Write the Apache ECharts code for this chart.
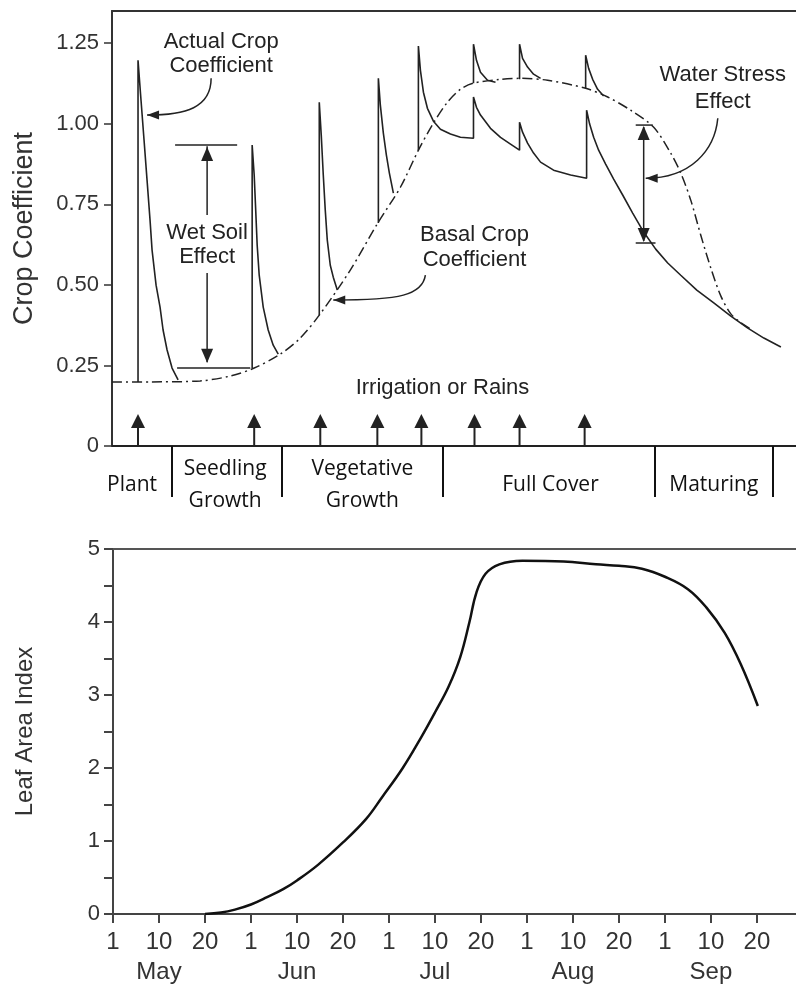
<!DOCTYPE html>
<html><head><meta charset="utf-8">
<script src="https://cdn.jsdelivr.net/npm/echarts@6.0.0/dist/echarts.min.js"></script>
<style>html,body{margin:0;padding:0;background:#fff}#c{width:796px;height:984px}</style>
</head><body><div id="c"></div>
<script>
// x units: 10-day periods counted from 1 May (1 May = 0, 10 May = 1, 20 May = 2, 1 Jun = 3 ...)
const dekadTicks = [0,1,2,3,4,5,6,7,8,9,10,11,12,13,14];
const dekadLabels = ['1','10','20','1','10','20','1','10','20','1','10','20','1','10','20'];
const monthNames = ['May','Jun','Jul','Aug','Sep'];
const cropTicks = [0, 0.25, 0.5, 0.75, 1.0, 1.25];
const stageNames = ['Plant','Seedling\nGrowth','Vegetative\nGrowth','Full Cover','Maturing'];
const stageCenters = [0.435, 2.457, 5.435, 9.52, 13.065];
const stageBounds = [1.304, 3.696, 7.174, 11.783, 14.348];
const irrigationDates = [0.565, 3.087, 4.522, 5.761, 6.717, 7.87, 8.848, 10.261];

const basalKc = [[0,0.199],[0.826,0.199],[1.913,0.202],[2.565,0.217],[3.087,0.242],[3.652,0.285],[4.087,0.335],[4.5,0.406],[5.174,0.546],[5.783,0.695],[6.261,0.803],[6.652,0.918],[6.978,1.002],[7.283,1.067],[7.565,1.107],[7.848,1.126],[8.435,1.138],[8.87,1.141],[9.457,1.135],[10.283,1.110],[10.761,1.083],[11.261,1.042],[11.761,0.989],[12.13,0.909],[12.348,0.847],[12.565,0.763],[12.783,0.654],[12.999,0.553],[13.217,0.466],[13.435,0.41],[13.652,0.383],[13.87,0.363]];

const actualKcSegments = [
  [[0.565,0.199],[0.565,1.197],[0.630,1.073],[0.696,0.949],[0.761,0.825],[0.826,0.701],[0.870,0.608],[0.957,0.499],[1.043,0.431],[1.109,0.360],[1.196,0.298],[1.304,0.242],[1.435,0.205]],
  [[3.043,0.242],[3.043,0.934],[3.087,0.841],[3.120,0.732],[3.152,0.623],[3.196,0.530],[3.283,0.431],[3.391,0.360],[3.500,0.313],[3.609,0.285]],
  [[4.500,0.406],[4.500,1.067],[4.543,0.965],[4.587,0.841],[4.630,0.732],[4.674,0.639],[4.739,0.561],[4.804,0.524],[4.891,0.484]],
  [[5.783,0.692],[5.783,1.141],[5.826,1.058],[5.891,0.971],[5.957,0.903],[6.022,0.847],[6.109,0.785]],
  [[6.652,0.918],[6.652,1.241],[6.696,1.166],[6.761,1.098],[6.848,1.048],[6.978,1.008],[7.130,0.983],[7.348,0.968],[7.565,0.958],[7.848,0.955],[7.848,1.083],[7.913,1.051],[8.000,1.027],[8.217,0.986],[8.435,0.958],[8.652,0.937],[8.848,0.918],[8.848,1.005],[8.913,0.974],[9.022,0.940],[9.152,0.909],[9.304,0.881],[9.587,0.856],[9.957,0.841],[10.304,0.831],[10.304,1.042],[10.370,0.999],[10.457,0.958],[10.565,0.918],[10.717,0.875],[10.891,0.828],[11.087,0.779],[11.304,0.723],[11.543,0.664],[11.804,0.611],[12.065,0.568],[12.348,0.530],[12.696,0.484],[13.065,0.444],[13.435,0.403],[13.804,0.366],[14.152,0.335],[14.522,0.307]]
];

const wetSurfaceSpikes = [
  [[7.848,1.126],[7.848,1.247],[7.913,1.197],[8.0,1.160],[8.152,1.135],[8.326,1.129]],
  [[8.848,1.138],[8.848,1.247],[8.913,1.203],[9.022,1.176],[9.152,1.154],[9.304,1.141]],
  [[10.283,1.110],[10.283,1.213],[10.348,1.172],[10.435,1.138],[10.543,1.107],[10.674,1.086]]
];

const leafAreaIndex = [[2.0,0],[2.35,0.02],[2.65,0.06],[3.0,0.13],[3.35,0.23],[3.7,0.34],[4.0,0.46],[4.45,0.67],[5.0,0.98],[5.5,1.3],[5.85,1.6],[6.3,2.0],[6.7,2.42],[7.0,2.76],[7.3,3.12],[7.55,3.52],[7.75,4.0],[7.9,4.4],[8.1,4.66],[8.4,4.79],[8.9,4.84],[9.8,4.83],[10.5,4.79],[11.0,4.77],[11.5,4.73],[12.0,4.62],[12.5,4.45],[12.9,4.2],[13.3,3.85],[13.65,3.42],[14.02,2.85]];

const INK = '#222';
const FONT = 'Liberation Sans, Arial, Helvetica, sans-serif';
const XMAX = 14.85;

function nearestIndex(arr, v) {
  let best = 0;
  arr.forEach((a, i) => { if (Math.abs(a - v) < Math.abs(arr[best] - v)) best = i; });
  return best;
}

function renderAnnotations(params, api) {
  const P = (x, y) => api.coord([x, y]);
  const ch = [];
  const line = (a, b, w) => ({type:'line', shape:{x1:a[0],y1:a[1],x2:b[0],y2:b[1]}, style:{stroke:INK, lineWidth:w||1.5}});
  const bez = (a, b, c, d) => ({type:'bezierCurve', shape:{x1:a[0],y1:a[1],cpx1:b[0],cpy1:b[1],cpx2:c[0],cpy2:c[1],x2:d[0],y2:d[1]}, style:{stroke:INK, fill:null, lineWidth:1.5}});
  const head = (tip, from, len, hw) => {
    len = len || 13; hw = hw || 5.5;
    const dx = tip[0]-from[0], dy = tip[1]-from[1], d = Math.hypot(dx, dy) || 1;
    const ux = dx/d, uy = dy/d, bx = tip[0]-ux*len, by = tip[1]-uy*len;
    return {type:'polygon', shape:{points:[[tip[0],tip[1]],[bx-uy*hw,by+ux*hw],[bx+uy*hw,by-ux*hw]]}, style:{fill:INK}};
  };
  const text = (s, at, lh) => ({type:'text', x:at[0], y:at[1], style:{text:s, fill:INK, fontFamily:FONT, fontSize:22, align:'center', verticalAlign:'middle', lineHeight:lh||25}});

  // Actual crop coefficient label + curved arrow
  ch.push(text('Actual Crop\nCoefficient', P(2.37, 1.216), 24));
  {
    const p0 = P(2.152,1.141), p1 = P(2.152,1.05), p2 = P(1.60,1.027), p3 = P(0.761,1.027);
    ch.push(bez(p0,p1,p2,p3)); ch.push(head(p3, p2, 12, 4.5));
  }
  // Wet soil effect bracket
  ch.push(line(P(1.37,0.934), P(2.717,0.934)));
  ch.push(line(P(2.065,0.717), P(2.065,0.93)));
  ch.push(head(P(2.065,0.928), P(2.065,0.717), 14, 6));
  ch.push(text('Wet Soil\nEffect', P(2.065, 0.623), 24));
  ch.push(line(P(2.065,0.537), P(2.065,0.26)));
  ch.push(head(P(2.065,0.258), P(2.065,0.537), 14, 6));
  ch.push(line(P(1.413,0.242), P(3.0,0.242)));
  // Basal crop coefficient label + curved arrow
  ch.push(text('Basal Crop\nCoefficient', P(7.87, 0.616), 25));
  {
    const p0 = P(6.804,0.530), p1 = P(6.739,0.468), p2 = P(6.261,0.453), p3 = P(4.804,0.453);
    ch.push(bez(p0,p1,p2,p3)); ch.push(head(p3, p2, 12, 4.5));
  }
  // Water stress effect label + curved arrow + bracket
  ch.push(text('Water Stress\nEffect', P(13.26, 1.109), 27));
  {
    const p0 = P(13.152,1.017), p1 = P(13.087,0.918), p2 = P(12.565,0.831), p3 = P(11.587,0.831);
    ch.push(bez(p0,p1,p2,p3)); ch.push(head(p3, p2, 12, 4.5));
  }
  ch.push(line(P(11.37,0.996), P(11.74,0.996)));
  ch.push(line(P(11.37,0.63), P(11.80,0.63)));
  ch.push(line(P(11.543,0.99), P(11.543,0.636)));
  ch.push(head(P(11.543,0.993), P(11.543,0.63), 14, 6));
  ch.push(head(P(11.543,0.633), P(11.543,0.996), 14, 6));
  // Irrigation label
  ch.push(text('Irrigation or Rains', P(7.174, 0.18)));
  return {type:'group', children:ch};
}

function renderIrrigation(params, api) {
  const b = api.coord([api.value(0), 0]);
  return {type:'group', children:[
    {type:'line', shape:{x1:b[0], y1:b[1], x2:b[0], y2:b[1]-19}, style:{stroke:INK, lineWidth:2}},
    {type:'polygon', shape:{points:[[b[0], b[1]-32],[b[0]-7, b[1]-18],[b[0]+7, b[1]-18]]}, style:{fill:INK}}
  ]};
}

const series = [];
series.push({type:'line', xAxisIndex:0, yAxisIndex:0, data:basalKc, symbol:'none', smooth:0.3,
  lineStyle:{color:INK, width:1.5, type:[10,4,2,4]}, z:3});
actualKcSegments.forEach(seg => series.push({type:'line', xAxisIndex:0, yAxisIndex:0, data:seg, symbol:'none',
  lineStyle:{color:INK, width:1.6}, z:4}));
wetSurfaceSpikes.forEach(seg => series.push({type:'line', xAxisIndex:0, yAxisIndex:0, data:seg, symbol:'none',
  lineStyle:{color:INK, width:1.6}, z:4}));
series.push({type:'custom', xAxisIndex:0, yAxisIndex:0, data:irrigationDates.map(d => [d, 0]), renderItem:renderIrrigation, silent:true, z:5});
series.push({type:'custom', xAxisIndex:0, yAxisIndex:0, data:[[0,0]], renderItem:renderAnnotations, silent:true, z:5});
series.push({type:'line', xAxisIndex:2, yAxisIndex:1, data:leafAreaIndex, symbol:'none', smooth:0.4,
  lineStyle:{color:'#111', width:2.5}, z:4});

const axisLineDark = {show:true, lineStyle:{color:'#333', width:2}};
const option = {
  animation:false,
  backgroundColor:'#fff',
  grid:[
    {left:112, right:0, top:11, bottom:538, outerBoundsMode:'none', containLabel:false},
    {left:113, right:0, top:549, bottom:70, outerBoundsMode:'none', containLabel:false}
  ],
  xAxis:[
    {gridIndex:0, type:'value', min:0, max:XMAX, position:'bottom',
      axisLine:{show:true, onZero:false, lineStyle:{color:'#222', width:2}},
      axisTick:{show:true, customValues:stageBounds, length:51, lineStyle:{color:'#111', width:2}},
      axisLabel:{show:true, customValues:stageCenters, margin:39, verticalAlign:'middle', lineHeight:32,
        fontFamily:'Open Sans, Noto Sans, sans-serif', fontSize:21, color:'#111',
        formatter:(v) => stageNames[nearestIndex(stageCenters, v)]},
      splitLine:{show:false}},
    {gridIndex:0, type:'value', min:0, max:XMAX, position:'top',
      axisLine:{show:true, onZero:false, lineStyle:{color:'#333', width:2}},
      axisTick:{show:false}, axisLabel:{show:false}, splitLine:{show:false}},
    {gridIndex:1, type:'value', min:0, max:XMAX, position:'bottom',
      axisLine:{show:true, onZero:false, lineStyle:{color:'#444', width:2}},
      axisTick:{show:true, customValues:dekadTicks, length:9, lineStyle:{color:'#444', width:2}},
      axisLabel:{show:true, customValues:dekadTicks, margin:13, lineHeight:30, fontFamily:FONT, fontSize:24, color:'#333',
        formatter:(v) => { const i = Math.round(v); return dekadLabels[i] + (i % 3 === 1 ? '\n' + monthNames[(i-1)/3] : ''); }},
      splitLine:{show:false}},
    {gridIndex:1, type:'value', min:0, max:XMAX, position:'top',
      axisLine:{show:true, onZero:false, lineStyle:{color:'#555', width:2}},
      axisTick:{show:false}, axisLabel:{show:false}, splitLine:{show:false}}
  ],
  yAxis:[
    {gridIndex:0, type:'value', min:0, max:1.35,
      axisLine:axisLineDark,
      axisTick:{show:true, customValues:cropTicks, length:8, lineStyle:{color:'#333', width:1.5}},
      axisLabel:{show:true, customValues:cropTicks, margin:13, fontFamily:FONT, fontSize:22, color:'#333',
        formatter:(v) => v === 0 ? '0' : v.toFixed(2)},
      splitLine:{show:false},
      name:'Crop Coefficient', nameLocation:'middle', nameGap:74,
      nameTextStyle:{fontFamily:FONT, fontSize:27, color:'#333'}},
    {gridIndex:1, type:'value', min:0, max:5, interval:0.5,
      axisLine:{show:true, lineStyle:{color:'#444', width:2}},
      axisTick:{show:true, length:9, lineStyle:{color:'#444', width:2}},
      axisLabel:{show:true, margin:13, fontFamily:FONT, fontSize:22, color:'#333',
        formatter:(v) => Math.abs(v - Math.round(v)) < 1e-6 ? String(Math.round(v)) : ''},
      splitLine:{show:false},
      name:'Leaf Area Index', nameLocation:'middle', nameGap:76,
      nameTextStyle:{fontFamily:FONT, fontSize:24, color:'#333'}}
  ],
  series:series
};
const chart = echarts.init(document.getElementById('c'), null, {renderer:'canvas'});
chart.setOption(option);
</script>
</body></html>
